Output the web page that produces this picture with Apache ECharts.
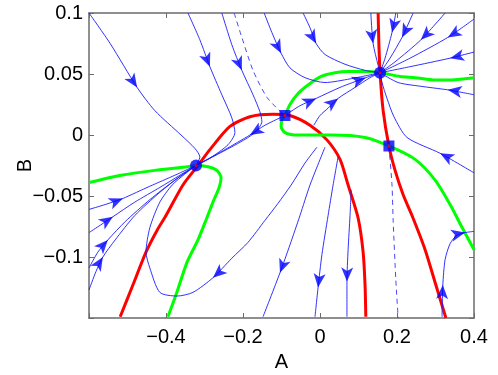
<!DOCTYPE html>
<html>
<head>
<meta charset="utf-8">
<script src="https://cdn.jsdelivr.net/npm/echarts@6/dist/echarts.min.js"></script>
<style>
html, body { margin: 0; padding: 0; background: #fff; }
#chart { width: 498px; height: 375px; }
</style>
</head>
<body>
<div id="chart"></div>
<script>
// nullclines
var redCurve1 = [[-0.519,-0.149],[-0.486,-0.123],[-0.452,-0.096],[-0.423,-0.078],[-0.4,-0.066],[-0.356,-0.041],[-0.317,-0.025],[-0.286,-0.012],[-0.234,0.007],[-0.182,0.015],[-0.122,0.017],[-0.078,0.016],[-0.026,0.008],[0.018,-0.004],[0.052,-0.020],[0.073,-0.041],[0.099,-0.068],[0.112,-0.096],[0.117,-0.123],[0.119,-0.149]]
var redCurve2 = [[0.151,0.1],[0.153,0.074],[0.156,0.051],[0.164,0.020],[0.179,-0.009],[0.195,-0.029],[0.216,-0.049],[0.239,-0.066],[0.273,-0.094],[0.301,-0.123],[0.327,-0.150]]
var greenCurve1 = [[-0.6,-0.039],[-0.517,-0.033],[-0.429,-0.029],[-0.343,-0.026],[-0.322,-0.025],[-0.291,-0.026],[-0.268,-0.029],[-0.257,-0.035],[-0.262,-0.043],[-0.278,-0.055],[-0.294,-0.068],[-0.317,-0.086],[-0.345,-0.104],[-0.374,-0.131],[-0.395,-0.149]]
var greenCurve2 = [[-0.091,0.016],[-0.078,0.025],[-0.057,0.034],[-0.031,0.041],[0.003,0.048],[0.039,0.051],[0.073,0.052],[0.117,0.052],[0.158,0.051],[0.208,0.048],[0.247,0.047],[0.299,0.045],[0.332,0.045],[0.4,0.047]]
var greenCurve3 = [[-0.091,0.016],[-0.099,0.012],[-0.101,0.007],[-0.091,0.002],[-0.057,0],[0.029,0],[0.117,-0.002],[0.179,-0.009],[0.247,-0.020],[0.299,-0.037],[0.338,-0.057],[0.366,-0.074],[0.4,-0.094]]

// stable manifolds of the saddles (dashed)
var dashed1 = [[-0.223,0.1],[-0.203,0.080],[-0.174,0.053],[-0.138,0.031],[-0.099,0.018],[-0.091,0.016]]
var dashed2 = [[0.179,-0.009],[0.187,-0.041],[0.190,-0.070],[0.197,-0.119],[0.203,-0.150]]

// trajectories
var trajT1 = [[-0.6,0.1],[-0.545,0.075],[-0.475,0.039],[-0.429,0.020],[-0.361,0],[-0.325,-0.011],[-0.312,-0.018],[-0.322,-0.025]]
var trajT2 = [[-0.343,0.1],[-0.312,0.078],[-0.286,0.056],[-0.255,0.033],[-0.229,0.014],[-0.221,0.002],[-0.239,-0.008],[-0.286,-0.019],[-0.322,-0.025]]
var trajA = [[-0.255,0.1],[-0.229,0.074],[-0.203,0.053],[-0.174,0.033],[-0.156,0.019],[-0.151,0.011],[-0.169,0.002],[-0.208,-0.006],[-0.273,-0.017],[-0.322,-0.025]]
var trajL = [[-0.091,0.016],[-0.143,0.008],[-0.182,0],[-0.247,-0.012],[-0.322,-0.025]]
var trajB = [[-0.145,0.1],[-0.125,0.084],[-0.101,0.067],[-0.078,0.055],[-0.039,0.047],[0.013,0.043],[0.078,0.046],[0.156,0.051]]
var trajC = [[-0.044,0.1],[-0.026,0.088],[-0.010,0.075],[0.013,0.066],[0.065,0.058],[0.117,0.053],[0.156,0.051]]
var trajD = [[0.132,0.1],[0.138,0.075],[0.151,0.057],[0.156,0.051]]
var trajE = [[0.197,0.1],[0.187,0.084],[0.169,0.063],[0.156,0.051]]
var trajF = [[0.242,0.1],[0.213,0.080],[0.182,0.063],[0.156,0.051]]
var trajG = [[0.325,0.1],[0.262,0.078],[0.195,0.060],[0.156,0.051]]
var trajH = [[0.4,0.095],[0.332,0.080],[0.234,0.063],[0.156,0.051]]
var trajI = [[0.4,0.068],[0.338,0.063],[0.234,0.056],[0.156,0.051]]
var trajJ = [[0.4,0.033],[0.332,0.037],[0.260,0.040],[0.203,0.043],[0.156,0.051]]
var trajK = [[0.4,-0.031],[0.312,-0.015],[0.226,-0.002],[0.192,0.015],[0.174,0.030],[0.161,0.043],[0.156,0.051]]
var trajM = [[-0.091,0.016],[-0.052,0.024],[-0.010,0.030],[0.052,0.039],[0.119,0.047],[0.156,0.051]]
var trajN = [[-0.016,0.008],[0,0.016],[0.021,0.022],[0.047,0.030],[0.091,0.039],[0.130,0.047],[0.156,0.051]]
var trajP = [[-0.008,-0.010],[-0.039,-0.023],[-0.075,-0.041],[-0.109,-0.056],[-0.143,-0.070],[-0.187,-0.088],[-0.229,-0.101],[-0.278,-0.117],[-0.330,-0.129],[-0.371,-0.132],[-0.416,-0.129],[-0.442,-0.109],[-0.452,-0.096],[-0.442,-0.076],[-0.416,-0.055],[-0.384,-0.041],[-0.351,-0.032],[-0.322,-0.025]]
var trajQ = [[0.013,-0.010],[-0.026,-0.041],[-0.052,-0.066],[-0.078,-0.090],[-0.104,-0.113],[-0.148,-0.149]]
var trajR = [[0.047,-0.018],[0.034,-0.041],[0.021,-0.066],[0.005,-0.098],[-0.005,-0.125],[-0.013,-0.149]]
var trajS = [[0.081,-0.045],[0.078,-0.066],[0.073,-0.094],[0.070,-0.120],[0.070,-0.149]]
var trajT = [[0.317,-0.149],[0.319,-0.123],[0.325,-0.102],[0.338,-0.089],[0.356,-0.082],[0.377,-0.080],[0.4,-0.079]]
var trajU1 = [[-0.6,-0.061],[-0.558,-0.057],[-0.512,-0.052],[-0.442,-0.042],[-0.377,-0.033],[-0.322,-0.025]]
var trajU2 = [[-0.6,-0.080],[-0.571,-0.074],[-0.538,-0.067],[-0.481,-0.055],[-0.416,-0.043],[-0.364,-0.033],[-0.322,-0.025]]
var trajU3 = [[-0.6,-0.109],[-0.577,-0.096],[-0.551,-0.086],[-0.506,-0.071],[-0.442,-0.053],[-0.377,-0.037],[-0.322,-0.025]]
var trajU4 = [[-0.6,-0.127],[-0.582,-0.112],[-0.564,-0.100],[-0.532,-0.086],[-0.481,-0.066],[-0.416,-0.047],[-0.364,-0.034],[-0.322,-0.025]]

// equilibria
var nodes = [[-0.322,-0.025],[0.156,0.051]]
var saddles = [[-0.091,0.016],[0.179,-0.009]]

// which vertex of each trajectory carries an arrow head
var trajectories = [
    [trajT1, [2]], [trajT2, [2]], [trajA, [2]], [trajL, [2]],
    [trajB, [2]], [trajC, [2]], [trajD, [1]], [trajE, [1]], [trajF, [1]],
    [trajG, [1]], [trajH, [1]], [trajI, [1]], [trajJ, [1]], [trajK, [1]],
    [trajM, [2, 4]], [trajN, [3]], [trajP, [7]], [trajQ, [4]], [trajR, [4]],
    [trajS, [3]], [trajT, [1, 5]], [trajU1, [2]], [trajU2, [2]], [trajU3, [2]], [trajU4, [2]]
]

function fmt(v, hide) {
    if (Math.abs(v - hide) < 1e-9) return ''
    var s = String(parseFloat(v.toFixed(2)))
    return s.replace('-', '\u2212')
}

var chart = echarts.init(document.getElementById('chart'))
var axisLine = { onZero: false, lineStyle: { color: '#6b6b6b', width: 1.5 } }
var tick = { inside: true, length: 5, lineStyle: { color: '#6b6b6b' } }
var series = []

function lineSeries(data, color, width, type) {
    return {
        type: 'line', data: data, showSymbol: false, smooth: 0.25,
        lineStyle: { color: color, width: width, type: type || 'solid' },
        silent: true
    }
}

series.push(lineSeries(redCurve1, '#ff0000', 3))
series.push(lineSeries(redCurve2, '#ff0000', 3))
series.push(lineSeries(greenCurve1, '#00ff00', 3))
series.push(lineSeries(greenCurve2, '#00ff00', 3))
series.push(lineSeries(greenCurve3, '#00ff00', 3))
series.push(lineSeries(dashed1, '#3333ff', 0.9, [5, 4]))
series.push(lineSeries(dashed2, '#3333ff', 0.9, [5, 4]))
for (var i = 0; i < trajectories.length; i++) {
    series.push(lineSeries(trajectories[i][0], '#1a1aff', 0.9))
}

var option = {
    animation: false,
    grid: { left: 89, right: 24, top: 13, bottom: 57, containLabel: false, outerBoundsMode: 'none' },
    xAxis: [{
        type: 'value', min: -0.6, max: 0.4, interval: 0.2,
        name: 'A', nameLocation: 'middle', nameGap: 34, nameMoveOverlap: false,
        nameTextStyle: { fontSize: 20, color: '#000', fontFamily: 'Liberation Sans' },
        axisLine: axisLine, splitLine: { show: false }, axisTick: tick,
        axisLabel: { fontSize: 20, color: '#000', margin: 9, fontFamily: 'Liberation Sans',
            formatter: function (v) { return fmt(v, -0.6) } }
    }, {
        type: 'value', min: -0.6, max: 0.4, interval: 0.2, position: 'top',
        axisLine: axisLine, splitLine: { show: false }, axisLabel: { show: false }, axisTick: tick
    }],
    yAxis: [{
        type: 'value', min: -0.15, max: 0.1, interval: 0.05,
        name: 'B', nameLocation: 'middle', nameGap: 54, nameRotate: 90, nameMoveOverlap: false,
        nameTextStyle: { fontSize: 20, color: '#000', fontFamily: 'Liberation Sans' },
        axisLine: axisLine, splitLine: { show: false }, axisTick: tick,
        axisLabel: { fontSize: 20, color: '#000', margin: 6, fontFamily: 'Liberation Sans',
            formatter: function (v) { return fmt(v, -0.15) } }
    }, {
        type: 'value', min: -0.15, max: 0.1, interval: 0.05, position: 'right',
        axisLine: axisLine, splitLine: { show: false }, axisLabel: { show: false }, axisTick: tick
    }],
    series: series
}
chart.setOption(option)

// arrow heads, oriented along each trajectory in screen space
var arrowData = []
trajectories.forEach(function (t) {
    var curve = t[0]
    t[1].forEach(function (k) {
        var a = chart.convertToPixel({ gridIndex: 0 }, curve[Math.max(k - 1, 0)])
        var b = chart.convertToPixel({ gridIndex: 0 }, curve[Math.min(k + 1, curve.length - 1)])
        var ang = Math.atan2(-(b[1] - a[1]), b[0] - a[0]) * 180 / Math.PI
        arrowData.push({ value: curve[k], symbolRotate: ang - 90 })
    })
})

series.push({
    type: 'scatter', data: arrowData, symbol: 'arrow', symbolSize: [9, 14],
    itemStyle: { color: '#0000ff' }, silent: true, z: 5
})
series.push({
    type: 'scatter', data: nodes, symbol: 'circle', symbolSize: 12,
    itemStyle: { color: '#0000ff' }, silent: true, z: 6
})
series.push({
    type: 'scatter', data: saddles, symbol: 'rect', symbolSize: 11,
    itemStyle: { color: '#0000ff' }, silent: true, z: 6
})
series.push({
    type: 'scatter', data: nodes.concat(saddles), symbol: 'circle', symbolSize: 3,
    itemStyle: { color: '#ff0000' }, silent: true, z: 7
})
chart.setOption({ series: series })
</script>
</body>
</html>
